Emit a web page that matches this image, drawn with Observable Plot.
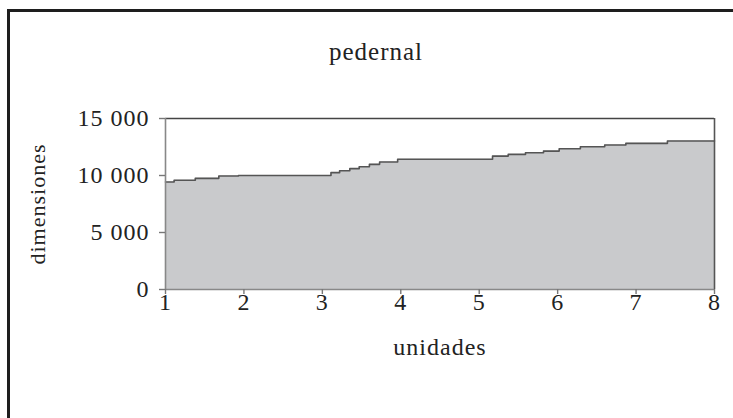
<!DOCTYPE html>
<html>
<head>
<meta charset="utf-8">
<script src="https://cdn.jsdelivr.net/npm/d3@7"></script>
<script src="https://cdn.jsdelivr.net/npm/@observablehq/plot@0.6"></script>
<style>
  html, body { margin: 0; padding: 0; background: #fff; overflow: hidden; width: 733px; height: 418px; }
  #wrap { position: relative; width: 733px; height: 418px; overflow: hidden; background: #fff; }
  #hline { position: absolute; left: 7px; top: 9px; width: 726px; height: 3px; background: #1e1e1e; }
  #vline { position: absolute; left: 7px; top: 9px; width: 3px; height: 409px; background: #1e1e1e; }
  #chart { position: absolute; left: 0; top: 0; width: 733px; height: 418px; }
  #chart svg { display: block; letter-spacing: 1px; }
</style>
</head>
<body>
<div id="wrap"><div id="chart"></div><div id="hline"></div><div id="vline"></div></div>
<script>
// Step breakpoints (unidades) and values (dimensiones)
const unidades = [1, 1.11, 1.38, 1.68, 1.93, 3.11, 3.22, 3.35, 3.47, 3.60, 3.73, 3.96,
                  5.17, 5.37, 5.59, 5.82, 6.02, 6.29, 6.60, 6.87, 7.40, 8];
const dimensiones = [9430, 9580, 9750, 9950, 10000, 10250, 10420, 10600, 10770, 10980, 11180, 11420,
                     11700, 11850, 12000, 12140, 12350, 12520, 12670, 12820, 13020, 13020];
const xTicks = [1, 2, 3, 4, 5, 6, 7, 8];
const yTicks = [0, 5000, 10000, 15000];
const yTickLabels = ["0", "5 000", "10 000", "15 000"];
const title = "pedernal";
const xLabel = "unidades";
const yLabel = "dimensiones";

const data = unidades.map((u, i) => ({u, v: dimensiones[i]}));
const font = "'Liberation Serif', 'Times New Roman', serif";

const chart = Plot.plot({
  width: 733,
  height: 418,
  marginTop: 118,
  marginBottom: 129,
  marginLeft: 165,
  marginRight: 19,
  style: {fontFamily: font, fontSize: "24px", color: "#222", background: "transparent"},
  x: {domain: [1, 8]},
  y: {domain: [0, 15000]},
  marks: [
    Plot.areaY(data, {x: "u", y: "v", curve: "step-after", fill: "#c9cacc"}),
    Plot.lineY(data, {x: "u", y: "v", curve: "step-after", stroke: "#555", strokeWidth: 1.6}),
    Plot.ruleY([15000], {stroke: "#444", strokeWidth: 1.6}),
    Plot.ruleX([8], {stroke: "#555", strokeWidth: 1.6}),
    Plot.ruleX([1], {stroke: "#888", strokeWidth: 1.6}),
    Plot.ruleY([0], {stroke: "#888", strokeWidth: 1.6}),
    Plot.axisY({ticks: yTicks, tickFormat: (d) => yTickLabels[yTicks.indexOf(d)],
                tickSize: 6, tickPadding: 10, stroke: "#777", strokeWidth: 1.4,
                label: null, fontSize: 24, fill: "#222"}),
    Plot.axisX({ticks: xTicks, tickFormat: (d) => String(d),
                tickSize: 5, tickPadding: -2, stroke: "#777", strokeWidth: 1.4,
                label: null, fontSize: 24, fill: "#222"}),
    Plot.text([xLabel], {frameAnchor: "bottom", dy: 65, text: (d) => d, fontSize: 24, fill: "#222"}),
    Plot.text([yLabel], {frameAnchor: "left", dx: -128, textAnchor: "middle", rotate: -90,
                         text: (d) => d, fontSize: 22, fill: "#222"}),
    Plot.text([title], {frameAnchor: "top", dy: -76, dx: -64, text: (d) => d, fontSize: 25, fill: "#222"})
  ]
});
document.getElementById("chart").appendChild(chart);
</script>
</body>
</html>
